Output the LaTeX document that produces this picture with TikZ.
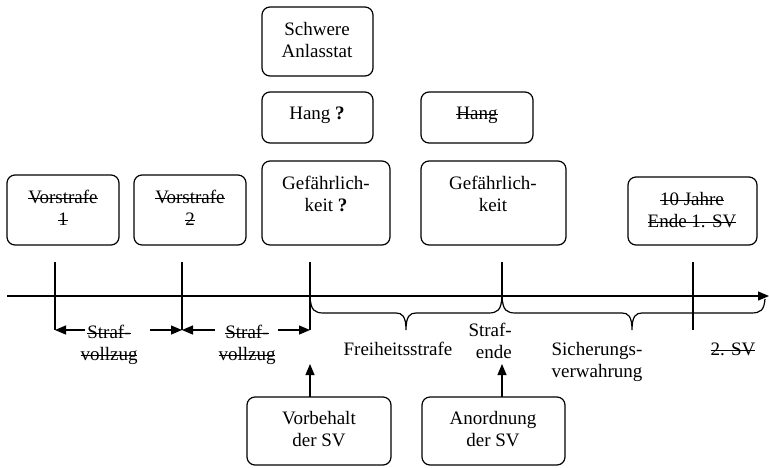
\documentclass[tikz,border=0pt]{standalone}
\usepackage{fontspec}
\setmainfont{Liberation Serif}
\newsavebox\strkbox
\newcommand\strk[1]{\sbox\strkbox{#1}\rlap{\usebox\strkbox}\rule[0.24em]{\wd\strkbox}{1.3pt}}
\usetikzlibrary{arrows.meta}
\tikzset{
  box/.style={draw, rounded corners=8pt, line width=1.2pt},
  lbl/.style={anchor=north, inner sep=0pt, align=center, font=\fontsize{19}{22}\selectfont},
  ln/.style={line width=1.2pt},
  tip/.style={-{Triangle[length=11pt,width=9pt]}, line width=1.2pt},
}
\begin{document}
\begin{tikzpicture}[x=1pt,y=-1pt]
\useasboundingbox (0,0) rectangle (769,467);
% boxes
\draw[box] (7,175) rectangle (119,245);
\node[lbl] (v1) at (63,190) {\strk{Vorstrafe}\\\strk{1}};
\draw[box] (134,175) rectangle (246,245);
\node[lbl] (v2) at (190,190) {\strk{Vorstrafe}\\\strk{2}};
\draw[box] (262,161) rectangle (390,245);
\node[lbl] (g1) at (326,176) {Gefährlich-\\keit \textbf{?}};
\draw[box] (421,161) rectangle (566,245);
\node[lbl] (g2) at (493,176) {Gefährlich-\\keit};
\draw[box] (628,177) rectangle (757,245);
\node[lbl] (zj) at (692,192) {\strk{10 Jahre}\\\strk{Ende 1. SV}};
\draw[box] (262,7) rectangle (373,76);
\node[lbl] (sa) at (317,22) {Schwere\\Anlasstat};
\draw[box] (262,92) rectangle (373,143);
\node[lbl] (h1) at (317,107) {Hang \textbf{?}};
\draw[box] (421,92) rectangle (533,143);
\node[lbl] (h2) at (477,107) {\strk{Hang}};
\draw[box] (247,397) rectangle (391,465);
\node[lbl] (vb) at (319,411) {Vorbehalt\\der SV};
\draw[box] (422,397) rectangle (565,465);
\node[lbl] (an) at (493,411) {Anordnung\\der SV};
% coordinates
\coordinate (ax0) at (7,296);
\coordinate (ax1) at (769,296);
\coordinate (t1a) at (55,262); \coordinate (t1b) at (55,330);
\coordinate (t2a) at (182,262); \coordinate (t2b) at (182,330);
\coordinate (t3a) at (310,262); \coordinate (t3b) at (310,330);
\coordinate (t4a) at (502,262); \coordinate (t4b) at (502,300);
\coordinate (t5a) at (693,262); \coordinate (t5b) at (693,330);
\coordinate (vbt) at (310,397); \coordinate (vbh) at (310,364);
\coordinate (ant) at (502,397); \coordinate (anh) at (502,364);
% axis and ticks
\draw[tip] (ax0) -- (ax1);
\draw[ln] (t1a) -- (t1b);
\draw[ln] (t2a) -- (t2b);
\draw[ln] (t3a) -- (t3b);
\draw[ln] (t4a) -- (t4b);
\draw[ln] (t5a) -- (t5b);
% Strafvollzug arrows
\node[lbl] (sv1) at (109,325) {\strk{Straf-}\\\strk{vollzug}};
\coordinate (g1l) at (85,330); \coordinate (g1r) at (150,330);
\draw[tip] (g1l) -- (t1b);
\draw[tip] (g1r) -- (t2b);
\node[lbl] (sv2) at (247,325) {\strk{Straf-}\\\strk{vollzug}};
\coordinate (g2l) at (215,330); \coordinate (g2r) at (278,330);
\draw[tip] (g2l) -- (t2b);
\draw[tip] (g2r) -- (t3b);
% braces
\draw[ln] (310,297) .. controls (311,310) and (314,313) .. (324,313) -- (396,313)
  .. controls (402,313) and (406,316) .. (406,330)
  .. controls (406,316) and (410,313) .. (416,313) -- (488,313)
  .. controls (498,313) and (501,310) .. (502,297);
\draw[ln] (502,297) .. controls (503,310) and (506,313) .. (516,313) -- (622,313)
  .. controls (628,313) and (632,316) .. (632,330)
  .. controls (632,316) and (636,313) .. (642,313) -- (751,313)
  .. controls (761,313) and (764,310) .. (765,299);
% lower labels
\node[lbl] (fs) at (398,342) {Freiheitsstrafe};
\node[lbl, anchor=north east, align=right] (se) at (512,323) {Straf-\\ende};
\node[lbl] (si) at (597,342) {Sicherungs-\\verwahrung};
\node[lbl] (s2) at (733,343) {\strk{2. SV}};
% up arrows
\draw[tip] (vbt) -- (vbh);
\draw[tip] (ant) -- (anh);
\end{tikzpicture}
\end{document}
